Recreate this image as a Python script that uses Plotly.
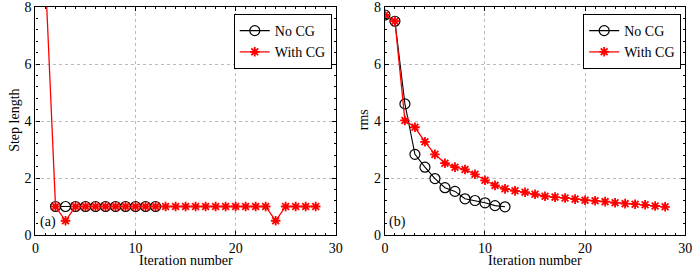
import plotly.graph_objects as go

# ---- data ----
iter_nocg_a = list(range(2, 13))
step_nocg = [1, 1, 1, 1, 1, 1, 1, 1, 1, 1, 1]
iter_cg_a = list(range(1, 29))
step_cg = [9, 1, 0.5] + [1] * 20 + [0.5, 1, 1, 1, 1]

iter_nocg_b = list(range(0, 13))
rms_nocg = [7.72, 7.5, 4.6, 2.83, 2.38, 1.98, 1.66, 1.53, 1.27, 1.21, 1.13, 1.03, 0.99]
iter_cg_b = list(range(0, 29))
rms_cg = [7.72, 7.5, 4.02, 3.78, 3.27, 2.83, 2.52, 2.38, 2.3, 2.13, 1.92, 1.74, 1.62,
          1.55, 1.5, 1.43, 1.36, 1.33, 1.3, 1.26, 1.22, 1.2, 1.17, 1.13, 1.1, 1.08,
          1.06, 1.02, 0.99]

x_ticks = [0, 10, 20, 30]
y_ticks = [0, 2, 4, 6, 8]

FONT = "Liberation Serif, Times New Roman, serif"
RED = "#ff0000"

fig = go.Figure()

def add_pair(xa, ya, x_n, y_n, x_c, y_c, legend):
    fig.add_trace(go.Scatter(
        x=x_n, y=y_n, mode="lines+markers", name="No CG", xaxis=xa, yaxis=ya,
        legend=legend, line=dict(color="black", width=1.1),
        marker=dict(symbol="circle-open", size=10, color="black", line=dict(color="black", width=1.2)),
        cliponaxis=True, legendrank=1))
    fig.add_trace(go.Scatter(
        x=x_c, y=y_c, mode="lines+markers", name="With CG", xaxis=xa, yaxis=ya,
        legend=legend, line=dict(color=RED, width=1.3),
        marker=dict(symbol="asterisk", size=8, color=RED, line=dict(color=RED, width=1.8)),
        cliponaxis=True, legendrank=2))

add_pair("x", "y", iter_nocg_a, step_nocg, iter_cg_a, step_cg, "legend")
add_pair("x2", "y2", iter_nocg_b, rms_nocg, iter_cg_b, rms_cg, "legend2")

axis_common = dict(
    showline=True, linecolor="black", linewidth=1.2, mirror="ticks",
    ticks="inside", ticklen=4, tickcolor="black", tickwidth=1,
    showgrid=True, gridcolor="#bbbbbb", griddash="dot", gridwidth=1,
    zeroline=False, tickfont=dict(family=FONT, size=14, color="black"),
    ticklabeloverflow="allow",
)

W, H = 700, 268
T, B = 7, 33
PH = H - T - B
dom1 = [32 / W, 337 / W]
dom2 = [387 / W, 692 / W]

def py(pix):
    return (H - B - pix) / PH

legend_common = dict(
    xanchor="right", yanchor="top", bgcolor="white", bordercolor="black",
    borderwidth=1, font=dict(family=FONT, size=14), tracegroupgap=0,
    itemwidth=30,
)

fig.update_layout(
    width=W, height=H,
    margin=dict(l=0, r=0, t=T, b=B),
    paper_bgcolor="white", plot_bgcolor="white",
    font=dict(family=FONT, size=14, color="black"),
    showlegend=True,
    xaxis=dict(domain=dom1, range=[0, 30], tickvals=x_ticks, anchor="y",
               minor=dict(dtick=1, ticks="inside", ticklen=2, tickcolor="black", showgrid=False),
               **axis_common),
    yaxis=dict(domain=[0, 1], range=[0, 8], tickvals=y_ticks, anchor="x",
               minor=dict(dtick=0.4, ticks="inside", ticklen=2, tickcolor="black", showgrid=False),
               **axis_common),
    xaxis2=dict(domain=dom2, range=[0, 30], tickvals=x_ticks, anchor="y2",
                minor=dict(dtick=1, ticks="inside", ticklen=2, tickcolor="black", showgrid=False),
                **axis_common),
    yaxis2=dict(domain=[0, 1], range=[0, 8], tickvals=y_ticks, anchor="x2",
                minor=dict(dtick=0.4, ticks="inside", ticklen=2, tickcolor="black", showgrid=False),
                **axis_common),
    legend=dict(x=333 / W, y=py(14), **legend_common),
    legend2=dict(x=688 / W, y=py(14), **legend_common),
    annotations=[
        dict(text="(a)", x=0.25, y=0.45, xref="x", yref="y", xanchor="left", yanchor="middle",
             showarrow=False, font=dict(family=FONT, size=14)),
        dict(text="(b)", x=0.25, y=0.45, xref="x2", yref="y2", xanchor="left", yanchor="middle",
             showarrow=False, font=dict(family=FONT, size=14)),
        dict(text="Iteration number", x=(dom1[0] + dom1[1]) / 2, y=py(260), xref="paper", yref="paper",
             xanchor="center", yanchor="middle", showarrow=False, font=dict(family=FONT, size=14)),
        dict(text="Iteration number", x=(dom2[0] + dom2[1]) / 2, y=py(260), xref="paper", yref="paper",
             xanchor="center", yanchor="middle", showarrow=False, font=dict(family=FONT, size=14)),
        dict(text="Step length", x=10 / W, y=py(120), xref="paper", yref="paper", textangle=-90,
             xanchor="center", yanchor="middle", showarrow=False, font=dict(family=FONT, size=14)),
        dict(text="rms", x=365 / W, y=py(120), xref="paper", yref="paper", textangle=-90,
             xanchor="center", yanchor="middle", showarrow=False, font=dict(family=FONT, size=14)),
    ],
)

fig.write_html("out.html", config={"displayModeBar": False},
               post_script="document.body.style.margin='0';document.body.style.overflow='hidden';")
